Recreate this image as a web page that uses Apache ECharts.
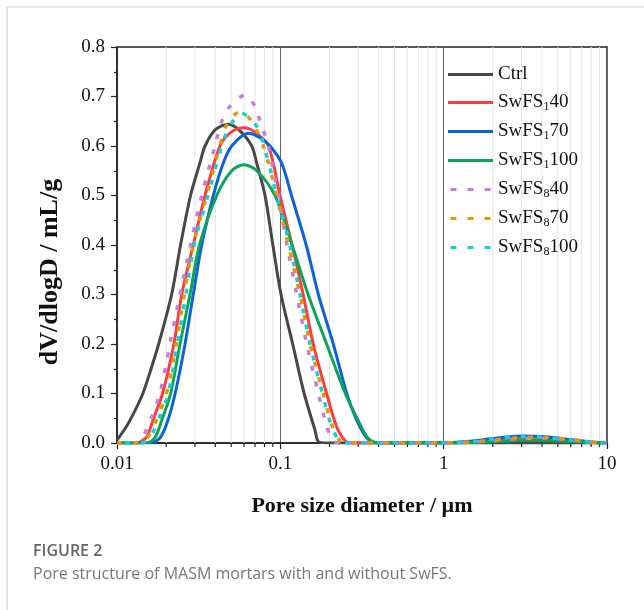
<!DOCTYPE html>
<html>
<head>
<meta charset="utf-8">
<script src="https://cdn.jsdelivr.net/npm/echarts@6/dist/echarts.min.js"></script>
<style>
html,body{margin:0;padding:0;background:#fff;}
#chart{width:644px;height:610px;}
</style>
</head>
<body>
<div id="chart"></div>
<script>
// ---- data (pore diameter in µm, dV/dlogD in mL/g) ----
const seriesNames = ['Ctrl', 'SwFS140', 'SwFS170', 'SwFS1100', 'SwFS840', 'SwFS870', 'SwFS8100'];
const xTickLabels = ['0.01', '0.1', '1', '10'];
const yTickLabels = ['0.0', '0.1', '0.2', '0.3', '0.4', '0.5', '0.6', '0.7', '0.8'];
const minorTickValues = [0.02,0.03,0.04,0.05,0.06,0.07,0.08,0.09,0.2,0.3,0.4,0.5,0.6,0.7,0.8,0.9,2,3,4,5,6,7,8,9];

const ctrl = [[0.01,0.006],[0.0115,0.035],[0.013,0.068],[0.0144,0.10],[0.016,0.145],[0.018,0.20],[0.0216,0.30],[0.0245,0.40],[0.0282,0.50],[0.0322,0.566],[0.0346,0.60],[0.040,0.633],[0.048,0.644],[0.056,0.632],[0.0668,0.60],[0.0716,0.566],[0.0806,0.50],[0.090,0.40],[0.101,0.30],[0.119,0.20],[0.140,0.10],[0.163,0.026],[0.172,0.002],[0.2,0],[0.5,0],[1,0],[10,0]];
const swfs1_40 = [[0.01,0],[0.0125,0],[0.0138,0.002],[0.0152,0.012],[0.0166,0.046],[0.019,0.10],[0.0223,0.20],[0.0249,0.30],[0.0293,0.40],[0.0346,0.50],[0.0427,0.60],[0.050,0.628],[0.060,0.637],[0.070,0.628],[0.0845,0.60],[0.0995,0.50],[0.118,0.40],[0.138,0.30],[0.159,0.20],[0.192,0.10],[0.22,0.035],[0.25,0.004],[0.28,0],[1,0],[1.5,0.002],[2,0.005],[3,0.008],[4,0.008],[6,0.004],[8,0.001],[10,0]];
const swfs1_70 = [[0.01,0],[0.015,0],[0.0168,0.002],[0.0185,0.012],[0.0205,0.046],[0.0227,0.10],[0.0261,0.20],[0.0293,0.30],[0.033,0.40],[0.0389,0.50],[0.0448,0.566],[0.0504,0.60],[0.0637,0.626],[0.075,0.617],[0.0865,0.60],[0.102,0.565],[0.117,0.50],[0.144,0.40],[0.171,0.30],[0.211,0.20],[0.255,0.10],[0.29,0.05],[0.33,0.015],[0.37,0.001],[0.42,0],[1,0],[1.5,0.004],[2,0.009],[3,0.014],[4,0.013],[6,0.007],[8,0.002],[10,0]];
const swfs1_100 = [[0.01,0],[0.0145,0],[0.0159,0.002],[0.0172,0.012],[0.0188,0.046],[0.0213,0.10],[0.0243,0.20],[0.028,0.30],[0.032,0.40],[0.0408,0.50],[0.0504,0.55],[0.060,0.562],[0.0717,0.55],[0.0928,0.50],[0.118,0.40],[0.148,0.30],[0.192,0.20],[0.25,0.10],[0.30,0.045],[0.34,0.012],[0.38,0.001],[0.42,0],[1,0],[1.5,0.001],[2,0.003],[3,0.005],[4,0.005],[6,0.003],[8,0.001],[10,0]];
const swfs8_40 = [[0.01,0],[0.0125,0],[0.0137,0.003],[0.0148,0.02],[0.0162,0.05],[0.0183,0.10],[0.0211,0.20],[0.0243,0.30],[0.0282,0.40],[0.033,0.50],[0.0398,0.60],[0.0438,0.65],[0.0492,0.68],[0.0608,0.703],[0.070,0.68],[0.0751,0.65],[0.0845,0.60],[0.097,0.50],[0.11,0.40],[0.126,0.30],[0.145,0.20],[0.171,0.10],[0.19,0.04],[0.21,0.004],[0.24,0],[1,0],[1.5,0.002],[2,0.005],[3,0.009],[4,0.010],[6,0.006],[8,0.002],[10,0]];
const swfs8_70 = [[0.01,0],[0.013,0],[0.0145,0.003],[0.016,0.02],[0.0176,0.05],[0.0201,0.10],[0.023,0.20],[0.0258,0.30],[0.0293,0.40],[0.0354,0.50],[0.0427,0.60],[0.0481,0.65],[0.057,0.669],[0.0668,0.65],[0.0787,0.60],[0.095,0.50],[0.112,0.40],[0.132,0.30],[0.152,0.20],[0.183,0.10],[0.205,0.04],[0.232,0.004],[0.26,0],[1,0],[1.5,0.002],[2,0.006],[3,0.011],[4,0.012],[6,0.007],[8,0.002],[10,0]];
const swfs8_100 = [[0.01,0],[0.0135,0],[0.015,0.003],[0.0165,0.02],[0.0181,0.05],[0.0206,0.10],[0.0234,0.20],[0.0264,0.30],[0.0296,0.40],[0.036,0.50],[0.0438,0.60],[0.049,0.64],[0.058,0.666],[0.0717,0.64],[0.0795,0.60],[0.095,0.50],[0.114,0.40],[0.132,0.30],[0.152,0.20],[0.181,0.10],[0.203,0.04],[0.23,0.004],[0.26,0],[1,0],[1.5,0.003],[2,0.008],[3,0.013],[4,0.012],[6,0.006],[8,0.002],[10,0]];

const allData = [ctrl, swfs1_40, swfs1_70, swfs1_100, swfs8_40, swfs8_70, swfs8_100];
const colors = ['#474747', '#fb3d3d', '#0b63d9', '#0aa55a', '#c77ce0', '#dc9b07', '#1ccfcf'];
const dashed = [false, false, false, false, true, true, true];

const serif = '"Liberation Serif", "Times New Roman", serif';
const legendRich = {
  n: {fontSize: 19, fontFamily: serif, color: '#111'},
  s: {fontSize: 12, fontFamily: serif, color: '#111', padding: [9, 0, 0, 0]}
};
function legendLabel(name) {
  if (name === 'Ctrl') return '{n|Ctrl}';
  const sub = name.charAt(4);
  return '{n|SwFS}{s|' + sub + '}{n|' + name.slice(5) + '}';
}
const solidIcon = 'path://M0,0h45v3h-45z';
const dashIcon = 'path://M0,0h6v3h-6z M17,0h6v3h-6z M34,0h6v3h-6z';

const chart = echarts.init(document.getElementById('chart'), null, {renderer: 'canvas'});

const series = seriesNames.map((nm, i) => ({
  name: nm,
  type: 'line',
  data: allData[i],
  smooth: 0.3,
  symbol: 'none',
  z: 3 + i,
  lineStyle: dashed[i]
    ? {color: colors[i], width: 3.5, type: [5, 11], dashOffset: i === 6 ? 8 : 0, cap: 'butt'}
    : {color: colors[i], width: 3},
  itemStyle: {color: colors[i]}
}));

series.push({
  name: 'minor',
  type: 'custom',
  silent: true,
  z: 1,
  clip: false,
  data: minorTickValues.map(v => [v, 0]),
  encode: {x: 0, y: 1},
  renderItem: function (params, api) {
    const x = api.value(0);
    const top = api.coord([x, 0.8]);
    const bot = api.coord([x, 0]);
    return {
      type: 'group',
      children: [
        {type: 'line', shape: {x1: top[0], y1: top[1], x2: bot[0], y2: bot[1]}, style: {stroke: '#e4e4e4', lineWidth: 1}},
        {type: 'line', shape: {x1: bot[0], y1: bot[1], x2: bot[0], y2: bot[1] + 4}, style: {stroke: '#222', lineWidth: 1.2}}
      ]
    };
  }
});

chart.setOption({
  animation: false,
  backgroundColor: '#fff',
  grid: {left: 117, top: 47, right: 37, bottom: 167, show: true, borderColor: '#222', borderWidth: 1.5, backgroundColor: 'transparent'},
  xAxis: {
    type: 'log', logBase: 10, min: 0.01, max: 10,
    name: 'Pore size diameter / µm', nameLocation: 'middle', nameGap: 52,
    nameTextStyle: {fontFamily: serif, fontSize: 22, fontWeight: 'bold', color: '#111'},
    axisLine: {show: true, lineStyle: {color: '#222', width: 1.5}},
    axisTick: {show: true, inside: false, length: 6, lineStyle: {color: '#222', width: 1.2}},
    minorTick: {show: false},
    splitLine: {show: true, lineStyle: {color: '#666', width: 1}},
    axisLabel: {
      fontFamily: serif, fontSize: 19, color: '#111', margin: 12,
      formatter: function (v) {
        const idx = Math.round(Math.log10(v)) + 2;
        return xTickLabels[idx] !== undefined ? xTickLabels[idx] : '';
      }
    }
  },
  yAxis: {
    type: 'value', min: 0, max: 0.8, interval: 0.1,
    name: 'dV/dlogD / mL/g', nameLocation: 'middle', nameGap: 54,
    nameTextStyle: {fontFamily: serif, fontSize: 26, fontWeight: 'bold', color: '#111', padding: [0, 54, 0, 0]},
    axisLine: {show: true, lineStyle: {color: '#222', width: 1.5}},
    axisTick: {show: true, inside: false, length: 6, lineStyle: {color: '#222', width: 1.2}},
    minorTick: {show: true, splitNumber: 2, length: 3, lineStyle: {color: '#222', width: 1.2}},
    splitLine: {show: false},
    axisLabel: {
      fontFamily: serif, fontSize: 19, color: '#111', margin: 12,
      formatter: function (v) { return yTickLabels[Math.round(v * 10)]; }
    }
  },
  legend: {
    data: seriesNames.map((nm, i) => ({name: nm, icon: dashed[i] ? dashIcon : solidIcon})),
    orient: 'vertical',
    left: 443, top: 60,
    itemWidth: 45, itemHeight: 3, itemGap: 9,
    formatter: legendLabel,
    textStyle: {fontFamily: serif, fontSize: 19, color: '#111', rich: legendRich}
  },
  graphic: [
    {type: 'line', shape: {x1: 7, y1: 7, x2: 644, y2: 7}, style: {stroke: '#d2d2d2', lineWidth: 1.2}},
    {type: 'line', shape: {x1: 7, y1: 7, x2: 7, y2: 610}, style: {stroke: '#d2d2d2', lineWidth: 1.2}},
    {type: 'text', left: 33, top: 543, style: {text: 'FIGURE 2', font: '600 16px "Open Sans", sans-serif', fill: '#666'}},
    {type: 'text', left: 33, top: 566, style: {text: 'Pore structure of MASM mortars with and without SwFS.', font: '16px "Open Sans", sans-serif', fill: '#777'}}
  ],
  series: series
});
</script>
</body>
</html>
